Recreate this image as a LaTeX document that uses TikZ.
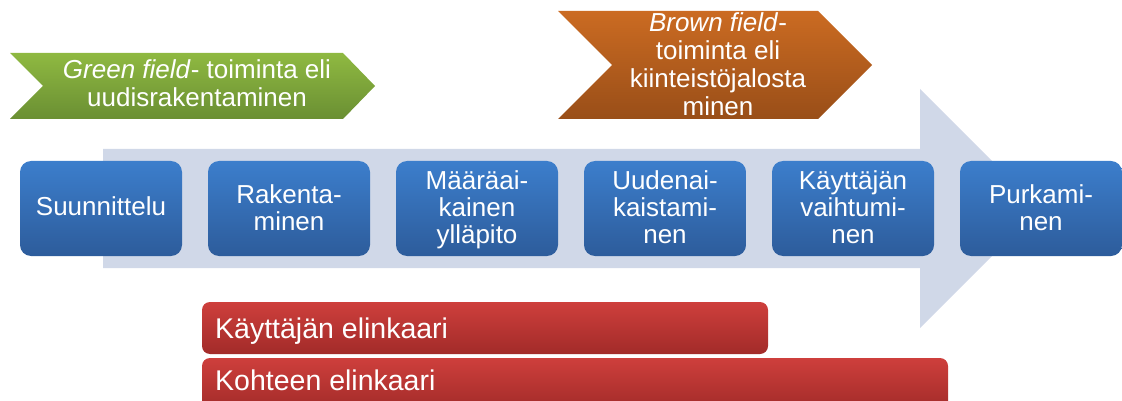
\documentclass[tikz,border=0pt]{standalone}
\usepackage{fontspec}
\setmainfont{Liberation Sans}
\definecolor{arrowbg}{HTML}{D0D8E8}
\definecolor{bluetop}{HTML}{3C7ECC}
\definecolor{bluebot}{HTML}{2D5C9B}
\definecolor{greentop}{HTML}{8FB941}
\definecolor{greenbot}{HTML}{6A8F33}
\definecolor{browntop}{HTML}{CB6B22}
\definecolor{brownbot}{HTML}{994E18}
\definecolor{redtop}{HTML}{CE3F3C}
\definecolor{redbot}{HTML}{A22B29}
\newcommand{\mlines}[2]{{\fontsize{26}{#1}\selectfont\begin{tabular}[t]{@{}c@{}}#2\end{tabular}}}
\tikzset{
  bluebox/.style={rectangle, rounded corners=11pt, minimum width=162pt, minimum height=95pt,
    top color=bluetop, bottom color=bluebot, inner sep=0pt},
  redbar/.style={rectangle, rounded corners=8pt, minimum height=52pt,
    top color=redtop, bottom color=redbot, inner sep=0pt},
  wtext/.style={text=white, inner sep=0pt, anchor=base},
  bartext/.style={text=white, inner sep=0pt, anchor=base west, font=\fontsize{28.5}{30}\selectfont},
}
\begin{document}
\begin{tikzpicture}[x=1pt,y=-1pt]
\useasboundingbox (0,0) rectangle (1122,401);
\clip (0,0) rectangle (1122,401);
% big background arrow
\fill[arrowbg] (103,149) -- (920,149) -- (920,89) -- (1039.5,208.5) -- (920,328) -- (920,268) -- (103,268) -- cycle;
% chevrons
\shade[top color=greentop, bottom color=greenbot] (10,53) -- (343,53) -- (375,86) -- (343,119) -- (10,119) -- (43,86) -- cycle;
\node[wtext] (gtext) at (197,79) {\mlines{28}{\textit{Green field}- toiminta eli\\uudisrakentaminen}};
\shade[top color=browntop, bottom color=brownbot] (558,11) -- (818,11) -- (872,65) -- (818,119) -- (558,119) -- (612,65) -- cycle;
\node[wtext] (btext) at (718,32) {\mlines{27.7}{\textit{Brown field}-\\toiminta eli\\kiinteistöjalosta\\minen}};
% phase boxes
\node[bluebox] (b1) at (101,208.5) {};
\node[bluebox] (b2) at (289,208.5) {};
\node[bluebox] (b3) at (477,208.5) {};
\node[bluebox] (b4) at (665,208.5) {};
\node[bluebox] (b5) at (853,208.5) {};
\node[bluebox] (b6) at (1041,208.5) {};
\node[wtext] (t1) at (101,215.5) {\mlines{27.7}{Suunnittelu}};
\node[wtext] (t2) at (289,203) {\mlines{27.7}{Rakenta-\\minen}};
\node[wtext] (t3) at (477,189.5) {\mlines{27.2}{Määräai-\\kainen\\ylläpito}};
\node[wtext] (t4) at (665,189.5) {\mlines{27.2}{Uudenai-\\kaistami-\\nen}};
\node[wtext] (t5) at (853,189.5) {\mlines{27.2}{Käyttäjän\\vaihtumi-\\nen}};
\node[wtext] (t6) at (1041,203) {\mlines{27.7}{Purkami-\\nen}};
% life cycle bars
\node[redbar, minimum width=566pt] (r1) at (485,328) {};
\node[redbar, minimum width=746pt] (r2) at (575,384) {};
\node[bartext] (rt1) at (215,338) {Käyttäjän elinkaari};
\node[bartext] (rt2) at (215,390) {Kohteen elinkaari};
\end{tikzpicture}
\end{document}
